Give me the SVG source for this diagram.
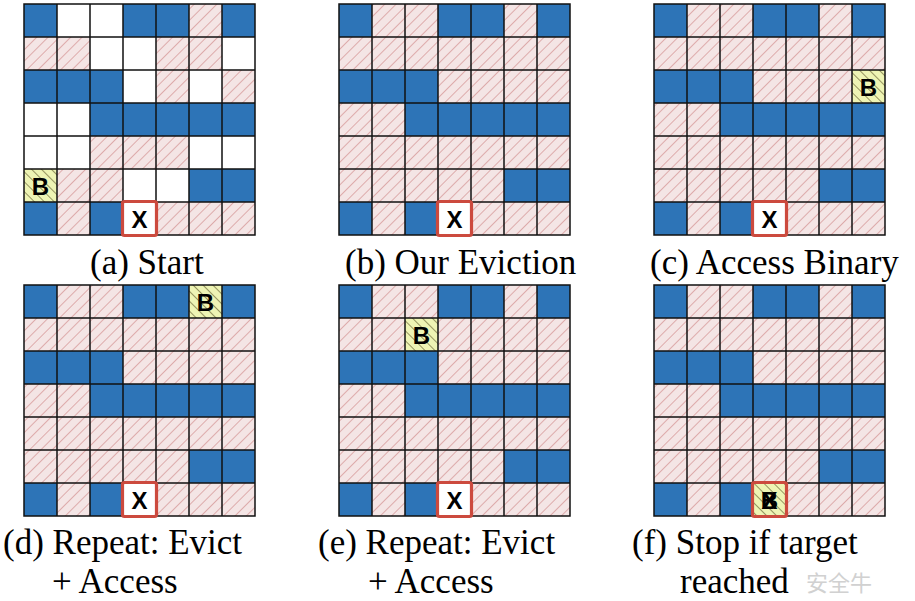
<svg xmlns="http://www.w3.org/2000/svg" xmlns:xlink="http://www.w3.org/1999/xlink" width="915" height="601" viewBox="0 0 915 601">
<style>
.blue{fill:#2d74b7}
.wht{fill:#ffffff}
.pink{fill:url(#hatchPink)}
.yel{fill:url(#hatchYel)}
.grid{fill:none;stroke:#111;stroke-width:1.5}
.xbox{fill:none;stroke:#cc4a3e;stroke-width:3.2}
.glyph{font-family:"Liberation Sans",Arial,sans-serif;font-weight:bold;font-size:24px;fill:#000;text-anchor:middle}
.cap{font-family:"Liberation Serif","Times New Roman",serif;font-size:35px;fill:#000}
.wm{font-family:"Noto Sans CJK SC","Noto Sans",sans-serif;font-size:22px;fill:#c9c9c9;opacity:0.85}
</style>
<defs>
<pattern id="hatchPink" patternUnits="userSpaceOnUse" width="8" height="8" patternTransform="rotate(45)">
<rect width="8" height="8" fill="#f4e5e5"/>
<line x1="0" y1="0" x2="0" y2="8" stroke="#d89c9c" stroke-width="1.6"/>
</pattern>
<pattern id="hatchYel" patternUnits="userSpaceOnUse" width="7" height="7" patternTransform="rotate(-45)">
<rect width="7" height="7" fill="#eef4b4"/>
<line x1="0" y1="0" x2="0" y2="7" stroke="#6e6b3c" stroke-width="1.4"/>
</pattern>
<g id="fills">
<rect class="pink" x="0" y="0" width="231" height="231"/>
<rect class="blue" x="0" y="0" width="33" height="33"/>
<rect class="blue" x="99" y="0" width="66" height="33"/>
<rect class="blue" x="198" y="0" width="33" height="33"/>
<rect class="blue" x="0" y="66" width="99" height="33"/>
<rect class="blue" x="66" y="99" width="165" height="33"/>
<rect class="blue" x="165" y="165" width="66" height="33"/>
<rect class="blue" x="0" y="198" width="33" height="33"/>
<rect class="blue" x="66" y="198" width="33" height="33"/>
<rect class="wht" x="99" y="198" width="33" height="33"/>
</g>
<path id="lines" class="grid" d="M0,0H231V231H0Z M33,0V231 M66,0V231 M99,0V231 M132,0V231 M165,0V231 M198,0V231 M0,33H231 M0,66H231 M0,99H231 M0,132H231 M0,165H231 M0,198H231"/>
<g id="xmark">
<rect class="xbox" x="98.5" y="197.5" width="34" height="34" rx="2"/>
</g>
</defs>

<g id="grid-a" transform="translate(24,4)">
<use xlink:href="#fills"/>
<rect class="wht" x="33" y="0" width="66" height="33"/>
<rect class="wht" x="66" y="33" width="66" height="33"/>
<rect class="wht" x="198" y="33" width="33" height="33"/>
<rect class="wht" x="99" y="66" width="33" height="33"/>
<rect class="wht" x="165" y="66" width="33" height="33"/>
<rect class="wht" x="0" y="99" width="66" height="33"/>
<rect class="wht" x="0" y="132" width="66" height="33"/>
<rect class="wht" x="165" y="132" width="66" height="33"/>
<rect class="wht" x="99" y="165" width="66" height="33"/>
<rect class="yel" x="0" y="165" width="33" height="33"/>
<use xlink:href="#lines"/>
<text class="glyph" x="16.5" y="190.5">B</text>
<use xlink:href="#xmark"/>
<text class="glyph" x="115.5" y="223.5">X</text>
</g>

<g id="grid-b" transform="translate(339,4)">
<use xlink:href="#fills"/>
<use xlink:href="#lines"/>
<use xlink:href="#xmark"/>
<text class="glyph" x="115.5" y="223.5">X</text>
</g>

<g id="grid-c" transform="translate(654,4)">
<use xlink:href="#fills"/>
<rect class="yel" x="198" y="66" width="33" height="33"/>
<use xlink:href="#lines"/>
<text class="glyph" x="214.5" y="91.5">B</text>
<use xlink:href="#xmark"/>
<text class="glyph" x="115.5" y="223.5">X</text>
</g>

<g id="grid-d" transform="translate(24,285)">
<use xlink:href="#fills"/>
<rect class="yel" x="165" y="0" width="33" height="33"/>
<use xlink:href="#lines"/>
<text class="glyph" x="181.5" y="25.5">B</text>
<use xlink:href="#xmark"/>
<text class="glyph" x="115.5" y="223.5">X</text>
</g>

<g id="grid-e" transform="translate(339,285)">
<use xlink:href="#fills"/>
<rect class="yel" x="66" y="33" width="33" height="33"/>
<use xlink:href="#lines"/>
<text class="glyph" x="82.5" y="58.5">B</text>
<use xlink:href="#xmark"/>
<text class="glyph" x="115.5" y="223.5">X</text>
</g>

<g id="grid-f" transform="translate(654,285)">
<use xlink:href="#fills"/>
<rect class="yel" x="99" y="198" width="33" height="33"/>
<use xlink:href="#lines"/>
<use xlink:href="#xmark"/>
<text class="glyph" x="115.5" y="223.5">B</text>
<text class="glyph" x="115.5" y="223.5">X</text>
</g>

<g id="captions">
<text class="cap" x="90" y="274">(a) Start</text>
<text class="cap" x="345" y="274">(b) Our Eviction</text>
<text class="cap" x="650" y="274">(c) Access Binary</text>
<text class="cap" x="3" y="554">(d) Repeat: Evict</text>
<text class="cap" x="52" y="593">+ Access</text>
<text class="cap" x="318" y="554">(e) Repeat: Evict</text>
<text class="cap" x="368" y="593">+ Access</text>
<text class="cap" x="632" y="554">(f) Stop if target</text>
<text class="cap" x="680" y="593">reached</text>
</g>
<text class="wm" x="806" y="591">安全牛</text>
</svg>
